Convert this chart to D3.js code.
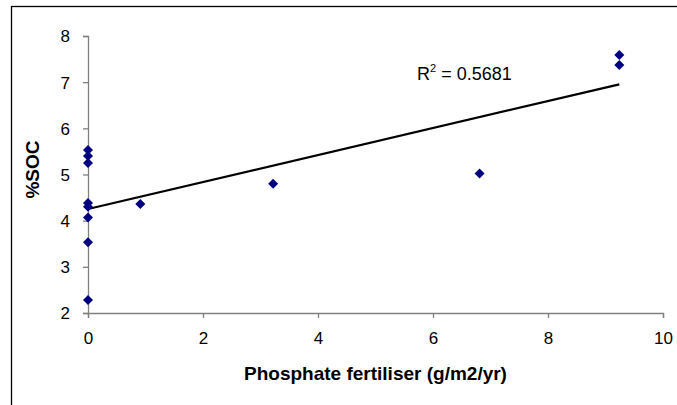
<!DOCTYPE html>
<html lang="en">
<head>
    <meta charset="utf-8">
    <title>SOC vs phosphate</title>
    <script src="https://d3js.org/d3.v7.min.js"></script>
    <style>
        body {
            margin: 0;
            background: white;
        }

        text {
            font-family: "Liberation Sans", Arial, sans-serif;
            fill: black;
        }

        .axis path,
        .axis line {
            stroke: #808080;
            stroke-width: 1.3;
        }

        .axis text {
            font-size: 17px;
        }

        .axis-title {
            font-size: 19px;
            font-weight: bold;
        }

        .trend {
            fill: none;
            stroke: black;
            stroke-width: 2.2;
        }
    </style>
</head>
<body>
<div id="chart"></div>

<script>
    // values
    var phosphate = [0, 0, 0, 0, 0, 0, 0, 0, 0.91, 3.22, 6.81, 9.24, 9.24];
    var soc = [2.28, 3.53, 4.07, 4.30, 4.38, 5.25, 5.40, 5.53, 4.36, 4.80, 5.02, 7.59, 7.37];
    var xTicks = [0, 2, 4, 6, 8, 10];
    var yTicks = [2, 3, 4, 5, 6, 7, 8];
    var rSquaredLabel = "0.5681";

    var w = 677;
    var h = 405;

    var svg = d3.select("#chart")
        .append("svg")
        .attr("width", w)
        .attr("height", h);

    // chart area border (only the left/top edges fall in view)
    svg.append("rect")
        .attr("x", 11.5)
        .attr("y", 6.5)
        .attr("width", 800)
        .attr("height", 600)
        .attr("fill", "white")
        .attr("stroke", "black")
        .attr("stroke-width", 1.3);

    var xScale = d3.scaleLinear().domain([0, 10]).range([88, 663]);
    var yScale = d3.scaleLinear().domain([2, 8]).range([313, 36]);

    var data = phosphate.map((p, i) => ({ x: p, y: soc[i] }));

    // least squares trend line
    var mx = d3.mean(data, d => d.x);
    var my = d3.mean(data, d => d.y);
    var sxy = d3.sum(data, d => (d.x - mx) * (d.y - my));
    var sxx = d3.sum(data, d => (d.x - mx) * (d.x - mx));
    var slope = sxy / sxx;
    var intercept = my - slope * mx;
    var xMax = d3.max(phosphate);

    var xAxis = svg.append("g")
        .attr("class", "axis")
        .attr("transform", `translate(0, ${yScale(2)})`)
        .call(d3.axisBottom(xScale).tickValues(xTicks).tickFormat(d3.format("d"))
            .tickSize(5).tickSizeOuter(5).tickPadding(14));

    var yAxis = svg.append("g")
        .attr("class", "axis")
        .attr("transform", `translate(${xScale(0)}, 0)`)
        .call(d3.axisLeft(yScale).tickValues(yTicks).tickFormat(d3.format("d"))
            .tickSize(5).tickSizeOuter(5).tickPadding(13));

    xAxis.selectAll("text").attr("fill", "black");
    yAxis.selectAll("text").attr("fill", "black").attr("dy", "0.35em");

    svg.append("line")
        .attr("class", "trend")
        .attr("x1", xScale(0))
        .attr("y1", yScale(intercept))
        .attr("x2", xScale(xMax))
        .attr("y2", yScale(intercept + slope * xMax));

    svg.selectAll("path.pt")
        .data(data)
        .enter()
        .append("path")
        .attr("class", "pt")
        .attr("d", d3.symbol(d3.symbolSquare, 50))
        .attr("transform", d => `translate(${xScale(d.x)}, ${yScale(d.y)}) rotate(45)`)
        .attr("fill", "#000080");

    var r2 = svg.append("text")
        .attr("x", 417)
        .attr("y", 80)
        .style("font-size", "18px");
    r2.append("tspan").text("R");
    r2.append("tspan").attr("dy", -8).style("font-size", "11px").text("2");
    r2.append("tspan").attr("dy", 8).text(" = " + rSquaredLabel);

    svg.append("text")
        .attr("class", "axis-title")
        .attr("x", (xScale(0) + xScale(10)) / 2)
        .attr("y", 380)
        .attr("text-anchor", "middle")
        .text("Phosphate fertiliser (g/m2/yr)");

    svg.append("text")
        .attr("class", "axis-title")
        .attr("transform", "translate(39, 169.5) rotate(-90)")
        .attr("text-anchor", "middle")
        .text("%SOC");
</script>
</body>
</html>
